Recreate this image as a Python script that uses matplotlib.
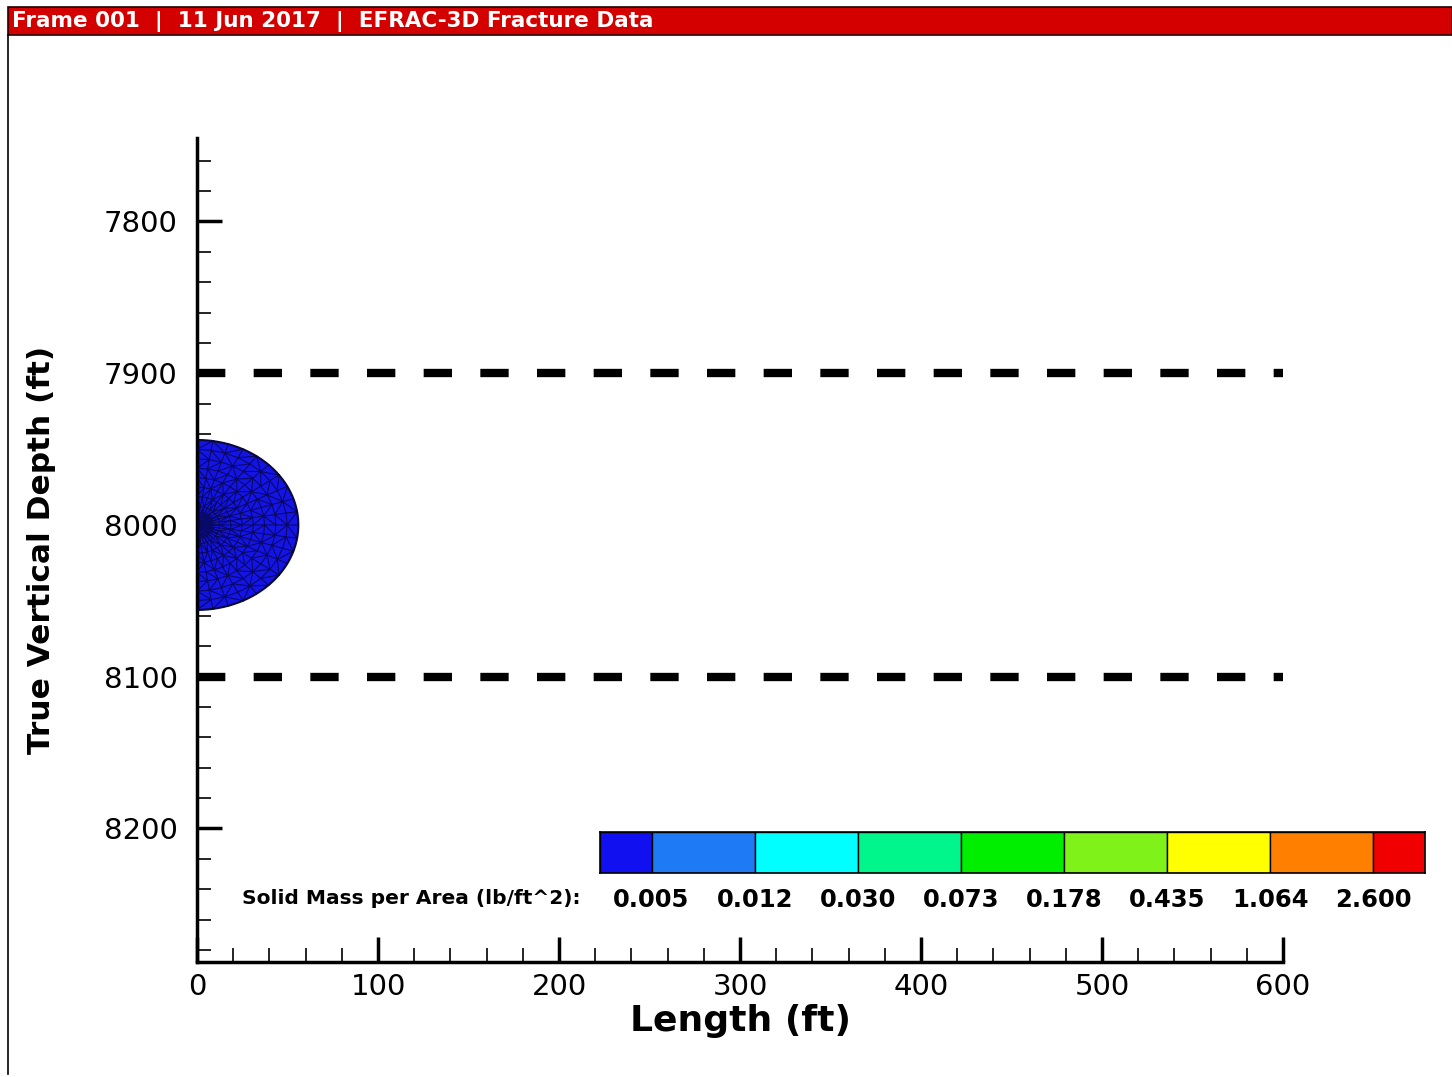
import matplotlib
matplotlib.use("Agg")
import matplotlib.pyplot as plt
import numpy as np
from matplotlib.patches import Rectangle
from matplotlib.tri import Triangulation

plt.rcParams['font.family'] = ['DejaVu Sans']

# header text
header = "Frame 001  |  11 Jun 2017  |  EFRAC-3D Fracture Data"

# axes limits / ticks
x_lim = (0, 600)
y_lim = (8288, 7745)
x_ticks = [0, 100, 200, 300, 400, 500, 600]
y_ticks = [7800, 7900, 8000, 8100, 8200]

# pay zone boundaries (dashed lines)
zone_depths = [7900, 8100]
zone_x = [0, 600]

# fracture half-ellipse (center depth, half height, length)
frac_center = 8000
frac_half_height = 56
frac_length = 56

# legend
legend_title = "Solid Mass per Area (lb/ft^2):"
legend_values = ["0.005", "0.012", "0.030", "0.073", "0.178", "0.435", "1.064", "2.600"]
legend_colors = ["#1010f0", "#1e7af5", "#00ffff", "#00f58a", "#00ef00",
                 "#7ff21a", "#ffff00", "#ff7f00", "#f00000"]

fig = plt.figure(figsize=(14.52, 10.77), dpi=100)

# header bar
fig.patches.append(Rectangle((8 / 1452, 1 - 35 / 1077), 1 - 8 / 1452, 28 / 1077,
                             transform=fig.transFigure, facecolor='#d40000',
                             edgecolor='#200000', linewidth=1.2, zorder=0))
fig.text(12 / 1452, 1 - 22 / 1077, header, color='white', fontsize=15.5,
         fontweight='bold', va='center', ha='left')
# outer frame on left
fig.add_artist(plt.Line2D([8 / 1452, 8 / 1452], [1 - 35 / 1077, 0.003],
                          transform=fig.transFigure, color='black', lw=1.2))

ax = fig.add_axes([197 / 1452, 1 - 962 / 1077, 1086 / 1452, 824 / 1077])
ax.set_xlim(*x_lim)
ax.set_ylim(*y_lim)

# fracture shape
theta = np.linspace(-np.pi / 2, np.pi / 2, 60)
ex = frac_length * np.cos(theta)
ey = frac_center + frac_half_height * np.sin(theta)
ax.fill(np.r_[0, ex, 0], np.r_[ey[0], ey, ey[-1]], facecolor='#1414e6',
        edgecolor='#101040', linewidth=1.5, zorder=2)
# mesh texture inside the fracture
rr = np.linspace(0, 1, 10)
tt = np.linspace(-np.pi / 2, np.pi / 2, 21)
R, T = np.meshgrid(rr[1:], tt)
mx = np.r_[0, (frac_length * R * np.cos(T)).ravel()]
my = np.r_[frac_center, (frac_center + frac_half_height * R * np.sin(T)).ravel()]
tri = Triangulation(mx, my)
ax.triplot(tri, color='#05053a', lw=0.8, alpha=0.75, zorder=3)

for d in zone_depths:
    ax.plot(zone_x, [d, d], color='black', lw=6, dashes=(3.4, 3.4),
            solid_capstyle='butt', dash_capstyle='butt', zorder=4)

for s in ['top', 'right']:
    ax.spines[s].set_visible(False)
for s in ['left', 'bottom']:
    ax.spines[s].set_linewidth(2.5)

ax.set_xticks(x_ticks)
ax.set_yticks(y_ticks)
ax.set_xticks(np.arange(0, 601, 20), minor=True)
ax.set_yticks(np.arange(7760, 8281, 20), minor=True)
ax.tick_params(which='major', direction='in', length=18, width=2.5,
               labelsize=21, pad=8)
ax.tick_params(which='minor', direction='in', length=10, width=1.2)
ax.tick_params(axis='y', pad=14)
ax.set_xlabel("Length (ft)", fontsize=26, fontweight='bold', labelpad=2)
ax.set_ylabel("True Vertical Depth (ft)", fontsize=22.5, fontweight='bold', labelpad=34)

# color legend
lax = fig.add_axes([600 / 1452, 1 - 873 / 1077, 825 / 1452, 41 / 1077])
edges = np.r_[-0.5, np.arange(len(legend_values)), len(legend_values) - 0.5]
lax.barh(0, np.diff(edges), left=edges[:-1], height=1, color=legend_colors,
         edgecolor='black', linewidth=1)
lax.set_xlim(edges[0], edges[-1])
lax.set_ylim(-0.5, 0.5)
lax.set_xticks(np.arange(len(legend_values)))
lax.set_xticklabels(legend_values)
lax.set_yticks([])
lax.tick_params(length=0, labelsize=17.5, pad=11)
for lbl in lax.get_xticklabels():
    lbl.set_fontweight('bold')
for s in lax.spines.values():
    s.set_linewidth(1.2)
fig.text(581 / 1452, 1 - 898 / 1077, legend_title, fontsize=14.5, fontweight='bold',
         ha='right', va='center')

fig.savefig("out.png", dpi=100)
